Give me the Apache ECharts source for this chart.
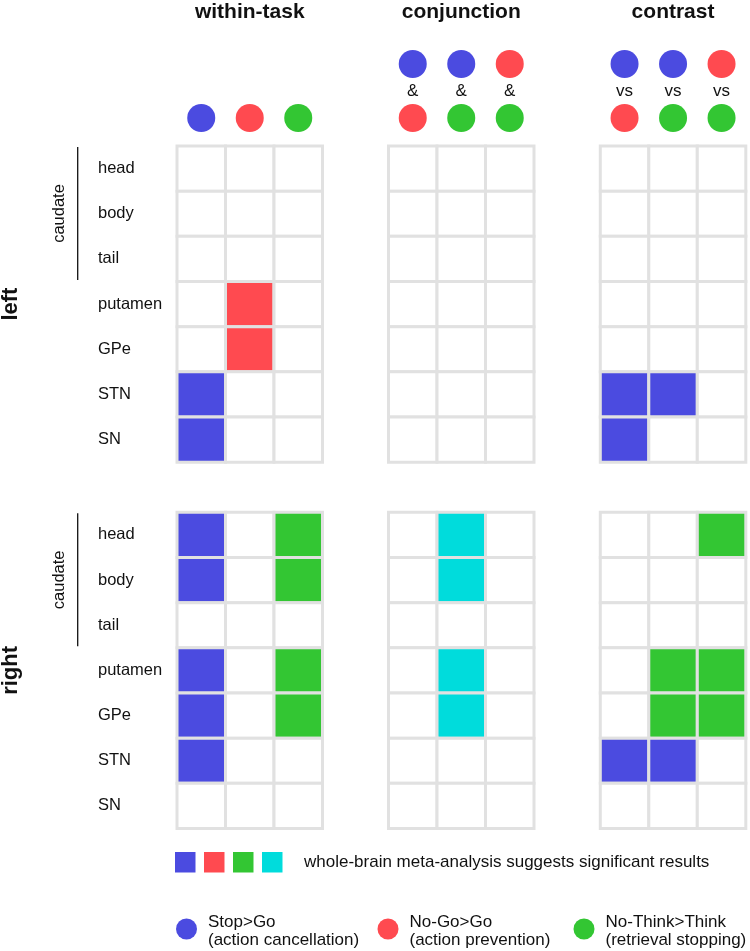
<!DOCTYPE html>
<html>
<head>
<meta charset="utf-8">
<script src="https://cdn.jsdelivr.net/npm/echarts@6/dist/echarts.min.js"></script>
<style>
html,body{margin:0;padding:0;background:#fff;}
#chart{width:750px;height:951px;}
</style>
</head>
<body>
<div id="chart"></div>
<script>
// ---- data ----
const regions = ['head', 'body', 'tail', 'putamen', 'GPe', 'STN', 'SN'];
const panelTitles = ['within-task', 'conjunction', 'contrast'];
const hemispheres = ['left', 'right'];
const withinCols = ['Stop>Go', 'No-Go>Go', 'No-Think>Think'];
const conjCols = ['Stop>Go & No-Go>Go', 'Stop>Go & No-Think>Think', 'No-Go>Go & No-Think>Think'];
const contrastCols = ['Stop>Go vs No-Go>Go', 'Stop>Go vs No-Think>Think', 'No-Go>Go vs No-Think>Think'];
// 0 = none, 1 = Stop>Go, 2 = No-Go>Go, 3 = No-Think>Think, 4 = conjunction
const leftWithin   = [[0,0,0],[0,0,0],[0,0,0],[0,2,0],[0,2,0],[1,0,0],[1,0,0]];
const leftConj     = [[0,0,0],[0,0,0],[0,0,0],[0,0,0],[0,0,0],[0,0,0],[0,0,0]];
const leftContrast = [[0,0,0],[0,0,0],[0,0,0],[0,0,0],[0,0,0],[1,1,0],[1,0,0]];
const rightWithin   = [[1,0,3],[1,0,3],[0,0,0],[1,0,3],[1,0,3],[1,0,0],[0,0,0]];
const rightConj     = [[0,4,0],[0,4,0],[0,0,0],[0,4,0],[0,4,0],[0,0,0],[0,0,0]];
const rightContrast = [[0,0,3],[0,0,0],[0,0,0],[0,3,3],[0,3,3],[1,1,0],[0,0,0]];
const legendTasks = ['Stop>Go', 'No-Go>Go', 'No-Think>Think'];
const legendSub = ['(action cancellation)', '(action prevention)', '(retrieval stopping)'];
const legendNote = 'whole-brain meta-analysis suggests significant results';

// ---- style ----
const COLORS = ['#ffffff', '#4b4be0', '#ff4a50', '#33c633', '#00dcdc'];
const GRAY = '#e1e1e1';
const FONT = '"Liberation Sans", Arial, Helvetica, sans-serif';
const TXT = '#111111';

const chart = echarts.init(document.getElementById('chart'), null, {renderer: 'canvas'});

const matrices = [leftWithin, leftConj, leftContrast, rightWithin, rightConj, rightContrast];
const colSets = [withinCols, conjCols, contrastCols];
const gridLefts = [177, 388.5, 600.3];
const gridTops = [146, 512.3];
const gridW = 145.5, gridH = 316.2;

const circle = (c) => ({width: 28, height: 28, borderRadius: 14, backgroundColor: c, lineHeight: 28});
const rich = {
  b: circle(COLORS[1]), r: circle(COLORS[2]), g: circle(COLORS[3]),
  amp: {fontSize: 17, fontFamily: FONT, color: TXT, lineHeight: 26, align: 'center'},
  vs: {fontSize: 17, fontFamily: FONT, color: TXT, lineHeight: 26, align: 'center'}
};
const headerFmt = [
  ['{b|}', '{r|}', '{g|}'],
  ['{b|}\n{amp|&}\n{r|}', '{b|}\n{amp|&}\n{g|}', '{r|}\n{amp|&}\n{g|}'],
  ['{b|}\n{vs|vs}\n{r|}', '{b|}\n{vs|vs}\n{g|}', '{r|}\n{vs|vs}\n{g|}']
];

const grids = [], xAxes = [], yAxes = [], series = [];
for (let h = 0; h < 2; h++) {
  for (let p = 0; p < 3; p++) {
    const i = h * 3 + p;
    grids.push({left: gridLefts[p], top: gridTops[h], width: gridW, height: gridH});
    const cols = colSets[p];
    xAxes.push({
      type: 'category', gridIndex: i, data: cols, position: 'top',
      axisLine: {show: false}, axisTick: {show: false}, splitLine: {show: false},
      axisLabel: {
        show: h === 0, interval: 0, margin: 14,
        formatter: (v, idx) => headerFmt[p][idx], rich: rich
      }
    });
    yAxes.push({
      type: 'category', gridIndex: i, data: regions, inverse: true,
      axisLine: {show: false}, axisTick: {show: false}, splitLine: {show: false},
      axisLabel: {
        show: p === 0, align: 'left', margin: 79,
        fontSize: 16.5, fontFamily: FONT, color: TXT
      }
    });
    const m = matrices[i];
    const data = [];
    for (let r = 0; r < regions.length; r++)
      for (let c = 0; c < 3; c++) data.push([c, r, m[r][c]]);
    series.push({
      type: 'custom', coordinateSystem: 'cartesian2d', xAxisIndex: i, yAxisIndex: i,
      data: data,
      renderItem: function (params, api) {
        const ctr = api.coord([api.value(0), api.value(1)]);
        const sz = api.size([1, 1]);
        return {
          type: 'rect',
          shape: {x: ctr[0] - sz[0] / 2, y: ctr[1] - sz[1] / 2, width: sz[0], height: sz[1]},
          style: {fill: COLORS[api.value(2)], stroke: GRAY, lineWidth: 3}
        };
      }
    });
  }
}

// ---- annotations ----
const graphic = [];
panelTitles.forEach((t, p) => {
  graphic.push({type: 'text', x: gridLefts[p] + gridW / 2, y: 12,
    style: {text: t, textAlign: 'center', textVerticalAlign: 'middle',
      font: 'bold 21px ' + FONT, fill: TXT}});
});
hemispheres.forEach((t, h) => {
  graphic.push({type: 'text', x: 11, y: gridTops[h] + gridH / 2, rotation: Math.PI / 2,
    style: {text: t, textAlign: 'center', textVerticalAlign: 'middle',
      font: 'bold 22px ' + FONT, fill: TXT}});
  const rowH = gridH / regions.length;
  const y0 = gridTops[h] + 1, y1 = gridTops[h] + rowH * 3 - 1.5;
  graphic.push({type: 'line', shape: {x1: 77.7, y1: y0, x2: 77.7, y2: y1},
    style: {stroke: '#111', lineWidth: 1.3}});
  graphic.push({type: 'text', x: 59, y: (y0 + y1) / 2, rotation: Math.PI / 2,
    style: {text: 'caudate', textAlign: 'center', textVerticalAlign: 'middle',
      font: '16.5px ' + FONT, fill: TXT}});
});
// square legend
[1, 2, 3, 4].forEach((k, j) => {
  graphic.push({type: 'rect', shape: {x: 175 + j * 29, y: 852, width: 20.5, height: 20.5},
    style: {fill: COLORS[k]}});
});
graphic.push({type: 'text', x: 304, y: 862,
  style: {text: legendNote, textVerticalAlign: 'middle', font: '17px ' + FONT, fill: TXT}});
// circle legend
const lx = [186.5, 388, 584];
legendTasks.forEach((t, j) => {
  graphic.push({type: 'circle', shape: {cx: lx[j], cy: 929, r: 10.5}, style: {fill: COLORS[j + 1]}});
  graphic.push({type: 'text', x: lx[j] + 21.5, y: 922,
    style: {text: t, textVerticalAlign: 'middle', font: '17px ' + FONT, fill: TXT}});
  graphic.push({type: 'text', x: lx[j] + 21.5, y: 940,
    style: {text: legendSub[j], textVerticalAlign: 'middle', font: '17px ' + FONT, fill: TXT}});
});

chart.setOption({
  animation: false,
  backgroundColor: '#ffffff',
  grid: grids, xAxis: xAxes, yAxis: yAxes, series: series,
  graphic: graphic
});
</script>
</body>
</html>
